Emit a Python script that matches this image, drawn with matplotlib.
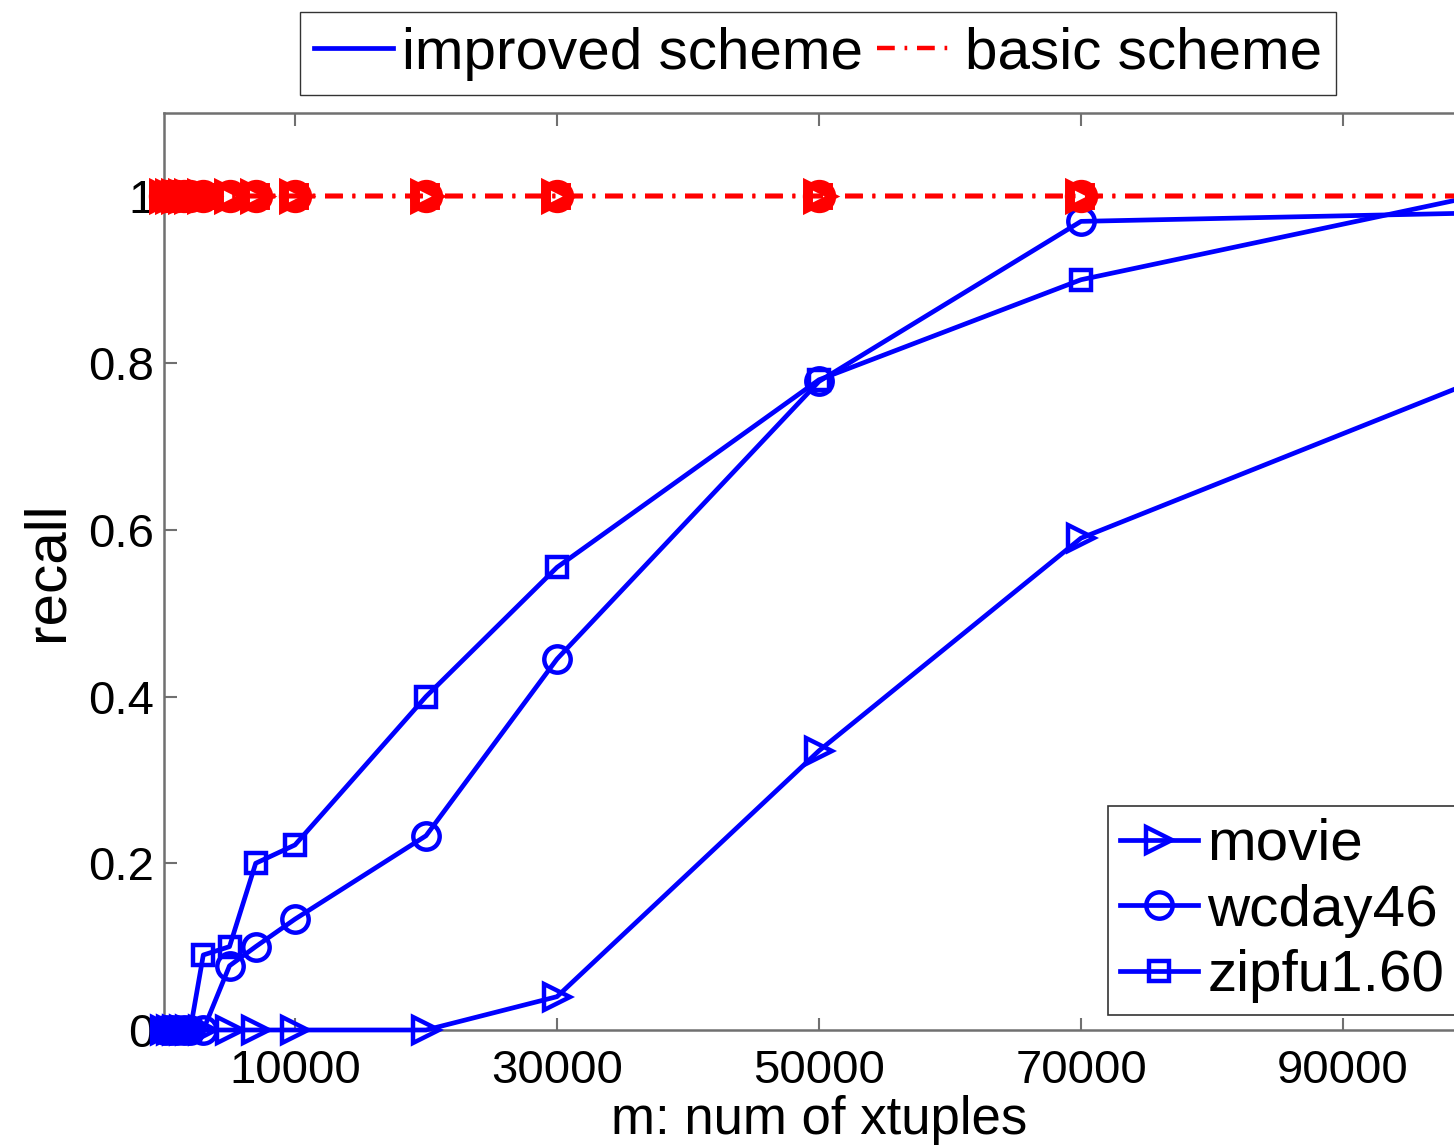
# -*- coding: utf-8 -*-
# recall x numero de xtuples: esquema melhorado (azul) e esquema basico (vermelho)
import matplotlib
matplotlib.use('Agg')
import matplotlib.pyplot as plt
from matplotlib.lines import Line2D

#####################################################################
#  DADOS
#
m_valores = [100, 500, 1000, 1500, 2000, 3000, 5000, 7000, 10000,
             20000, 30000, 50000, 70000, 100000]

# esquema melhorado
movie   = [0, 0, 0, 0, 0, 0, 0, 0, 0, 0, 0.04, 0.335, 0.59, 0.778]
wcday46 = [0, 0, 0, 0, 0, 0, 0.077, 0.10, 0.133, 0.233, 0.445, 0.778, 0.97, 0.98]
zipfu   = [0, 0, 0, 0, 0, 0.09, 0.10, 0.20, 0.222, 0.40, 0.555, 0.78, 0.90, 1.0]

# esquema basico (sempre recall 1)
basico_movie   = [1, 1, 1, 1, 1, 1, 1, 1, 1, 1, 1, 1, 1, 1]
basico_wcday46 = [1, 1, 1, 1, 1, 1, 1, 1, 1, 1, 1, 1, 1, 1]
basico_zipfu   = [1, 1, 1, 1, 1, 1, 1, 1, 1, 1, 1, 1, 1, 1]

nomes    = ['movie', 'wcday46', 'zipfu1.60']
marcas   = ['>', 'o', 's']
tamanhos = [19, 19, 15]

x_ticks  = [10000, 30000, 50000, 70000, 90000]
y_ticks  = [0, 0.2, 0.4, 0.6, 0.8, 1]
y_labels = ['0', '0.2', '0.4', '0.6', '0.8', '1']

AZUL     = '#0000ff'
VERMELHO = '#ff0000'
CINZA    = '#707070'
TRACO_PONTO = (0, (4, 2.2, 0.6, 2.2))


def main():
    plt.rcParams['font.family'] = ['Liberation Sans', 'DejaVu Sans']

    fig = plt.figure(figsize=(14.54, 11.46), dpi=100)
    # o eixo passa da borda direita da figura, como no original (cortado)
    ax = fig.add_axes([164/1454, 1 - 1030/1146, 1310/1454, 917/1146])

    melhorado = [movie, wcday46, zipfu]
    basico = [basico_movie, basico_wcday46, basico_zipfu]

    for y, mk, ms in zip(melhorado, marcas, tamanhos):
        ax.plot(m_valores, y, color=AZUL, linestyle='-', linewidth=3.4,
                marker=mk, markersize=ms, markerfacecolor='none',
                markeredgewidth=3.2, clip_on=False, zorder=3)

    for y, mk, ms in zip(basico, marcas, tamanhos):
        ax.plot(m_valores, y, color=VERMELHO, linestyle=TRACO_PONTO, linewidth=3.2,
                marker=mk, markersize=ms, markerfacecolor='none',
                markeredgewidth=5, clip_on=False, zorder=4)

    ax.set_xlim(0, 100000)
    ax.set_ylim(0, 1.1)
    ax.set_xticks(x_ticks)
    ax.set_xticklabels([str(v) for v in x_ticks])
    ax.set_yticks(y_ticks)
    ax.set_yticklabels(y_labels)

    ax.tick_params(direction='in', length=9, width=1.5, color=CINZA,
                   top=True, right=True, labelsize=34, pad=7)
    ax.tick_params(axis='x', pad=14)
    for s in ax.spines.values():
        s.set_color(CINZA)
        s.set_linewidth(1.8)

    ax.set_xlabel('m: num of xtuples', fontsize=38, labelpad=1)
    ax.set_ylabel('recall', fontsize=42, labelpad=10)

    # legenda superior (esquemas)
    h_esquemas = [Line2D([], [], color=AZUL, linewidth=3.4),
                  Line2D([], [], color=VERMELHO, linewidth=3.2, linestyle=TRACO_PONTO)]
    fig.legend(h_esquemas, ['improved scheme', 'basic scheme'],
               loc='upper center', bbox_to_anchor=(818/1454, 1 - 12/1146),
               ncol=2, fontsize=42, frameon=True, fancybox=False,
               edgecolor='black', handlelength=1.35, handletextpad=0.15,
               columnspacing=0.25, borderpad=0.25, borderaxespad=0)

    # legenda inferior (conjuntos de dados)
    h_dados = [Line2D([], [], color=AZUL, linewidth=3.4, marker=mk, markersize=ms,
                      markerfacecolor='none', markeredgewidth=3.2)
               for mk, ms in zip(marcas, tamanhos)]
    leg = ax.legend(h_dados, nomes, loc='lower left',
                    bbox_to_anchor=((1108 - 164)/1310, (1030 - 1015)/917),
                    fontsize=42, frameon=True, fancybox=False, edgecolor='black',
                    handlelength=1.35, handletextpad=0.15, labelspacing=0.2,
                    borderpad=0.2, borderaxespad=0)
    leg.get_frame().set_linewidth(1.2)

    fig.savefig('out.png', dpi=100)


if __name__ == '__main__':
    main()
